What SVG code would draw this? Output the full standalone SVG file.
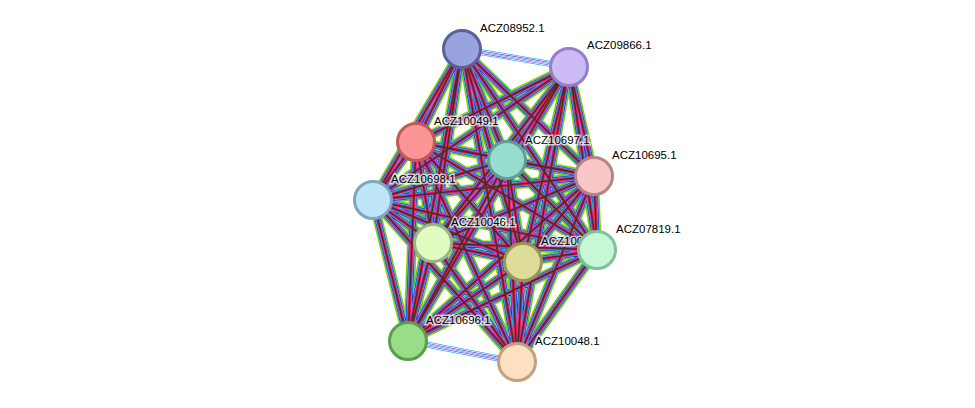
<svg xmlns="http://www.w3.org/2000/svg" xmlns:xlink="http://www.w3.org/1999/xlink" width="975" height="408" viewBox="0 0 975 408">
<style>
.n{stroke-width:3}
.t{font-family:"Liberation Sans",Arial,sans-serif;font-size:11.5px;fill:#000;stroke:#fff;stroke-width:3px;stroke-opacity:0.7;paint-order:stroke}
</style>
<defs>
<g id="E" fill="none">
<path d="M462 49L416 142M462 49L507 160M462 49L594 176M462 49L373 200M462 49L433 243M462 49L523 262M462 49L597 250M462 49L408 341M462 49L517 362
M569 67L416 142M569 67L507 160M569 67L594 176M569 67L373 200M569 67L433 243M569 67L523 262M569 67L597 250M569 67L408 341M569 67L517 362
M416 142L507 160M416 142L594 176M416 142L373 200M416 142L433 243M416 142L523 262M416 142L597 250M416 142L408 341M416 142L517 362
M507 160L594 176M507 160L373 200M507 160L433 243M507 160L523 262M507 160L597 250M507 160L408 341M507 160L517 362
M594 176L373 200M594 176L433 243M594 176L523 262M594 176L597 250M594 176L408 341M594 176L517 362
M373 200L433 243M373 200L523 262M373 200L597 250M373 200L408 341M373 200L517 362
M433 243L523 262M433 243L597 250M433 243L408 341M433 243L517 362
M523 262L597 250M523 262L408 341M523 262L517 362
M597 250L408 341M597 250L517 362"/>
</g>
<g id="T" fill="none"><path d="M462 49L569 67M408 341L517 362"/></g>
</defs>
<g id="connectors">
<use xlink:href="#E" stroke="#c8d400" stroke-width="10"/>
<use xlink:href="#E" stroke="#22cc22" stroke-width="8.5"/>
<use xlink:href="#E" stroke="#fff" stroke-width="7.3" stroke-opacity="0.5"/>
<use xlink:href="#E" stroke="#2222ee" stroke-width="6.3"/>
<use xlink:href="#E" stroke="#22bbdd" stroke-width="5"/>
<use xlink:href="#E" stroke="#dd22dd" stroke-width="3.8"/>
<use xlink:href="#E" stroke="#ee2222" stroke-width="2.6"/>
<use xlink:href="#E" stroke="#333" stroke-width="1.4"/>
<use xlink:href="#T" stroke="#22bbdd" stroke-width="6"/>
<use xlink:href="#T" stroke="#fff" stroke-width="4.5"/>
<use xlink:href="#T" stroke="#4444ee" stroke-width="3.2"/>
<use xlink:href="#T" stroke="#fff" stroke-width="1.8"/>
<use xlink:href="#T" stroke="#cc88ee" stroke-width="1"/>
</g>
<g id="n1"><circle class="n" cx="462" cy="49" r="18.5" fill="#99a3dd" stroke="#5a6099"/><text class="t" x="480" y="32">ACZ08952.1</text></g>
<g id="n2"><circle class="n" cx="569" cy="67" r="18.5" fill="#ccbbf5" stroke="#9580c8"/><text class="t" x="587" y="49">ACZ09866.1</text></g>
<g id="n3"><circle class="n" cx="416" cy="142" r="18.5" fill="#fa9696" stroke="#c05a5a"/><text class="t" x="434" y="125">ACZ10049.1</text></g>
<g id="n4"><circle class="n" cx="507" cy="160" r="18.5" fill="#99ddd0" stroke="#5fa095"/><text class="t" x="525" y="144">ACZ10697.1</text></g>
<g id="n5"><circle class="n" cx="594" cy="176" r="18.5" fill="#f8c8c8" stroke="#b58585"/><text class="t" x="612" y="159">ACZ10695.1</text></g>
<g id="n6"><circle class="n" cx="373" cy="200" r="18.5" fill="#bfe6f8" stroke="#80a5c0"/><text class="t" x="391" y="183">ACZ10698.1</text></g>
<g id="n7"><circle class="n" cx="433" cy="243" r="18.5" fill="#e0fcc0" stroke="#9ab585"/><text class="t" x="451" y="226">ACZ10046.1</text></g>
<g id="n8"><circle class="n" cx="523" cy="262" r="18.5" fill="#dddd99" stroke="#9a9555"/><text class="t" x="541" y="245">ACZ100</text></g>
<g id="n9"><circle class="n" cx="597" cy="250" r="18.5" fill="#c6f8d8" stroke="#80c09a"/><text class="t" x="616" y="233">ACZ07819.1</text></g>
<g id="n10"><circle class="n" cx="408" cy="341" r="18.5" fill="#99dd88" stroke="#5a9e50"/><text class="t" x="426" y="324">ACZ10696.1</text></g>
<g id="n11"><circle class="n" cx="517" cy="362" r="18.5" fill="#fde0c0" stroke="#c0a080"/><text class="t" x="535" y="345">ACZ10048.1</text></g>
</svg>
